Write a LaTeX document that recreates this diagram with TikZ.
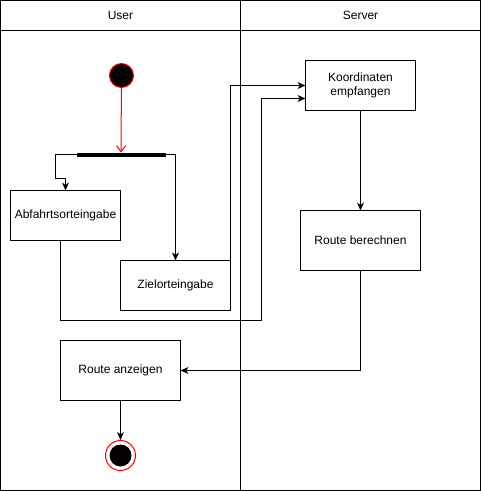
\documentclass[tikz,border=0pt]{standalone}
\usepackage{fontspec}
\setmainfont{Liberation Sans}
\usetikzlibrary{arrows.meta,calc}

\begin{document}
\begin{tikzpicture}[x=1pt,y=-1pt,line width=1pt,
    every node/.style={font=\fontsize{12}{14}\selectfont},
    activity/.style={draw,rectangle,inner sep=2pt,outer sep=0pt,align=center,minimum width=110pt,minimum height=50pt},
    arr/.style={-{Stealth[length=8pt,width=7pt,inset=2.5pt]}}]
  \useasboundingbox (-0.5,-0.5) rectangle (480.5,490.5);

  % swimlanes
  \draw (0,0) rectangle (480,490);
  \draw (0,30) -- (480,30);
  \draw (240,0) -- (240,490);
  \node (user) at (120,15) {User};
  \node (server) at (360,15) {Server};

  \node[circle,draw=red,fill=black,minimum size=24pt,inner sep=0pt] (start) at (121,75) {};
  \node[rectangle,fill=black,minimum width=89pt,minimum height=4pt,inner sep=0pt,outer sep=0pt] (fork) at (120.5,154) {};
  \node[activity] (abfahrt) at (65,215) {Abfahrtsorteingabe};
  \node[activity] (ziel) at (175,285) {Zielorteingabe};
  \node[activity] (koord) at (360,85) {Koordinaten\\empfangen};
  \node[activity,minimum width=120pt,minimum height=60pt] (berechnen) at (360,240) {Route berechnen};
  \node[activity,minimum width=120pt,minimum height=60pt] (anzeigen) at (120,370) {Route anzeigen};
  \node[circle,draw=red,fill=white,minimum size=30pt,inner sep=0pt] (ende) at (120,455) {};
  \fill (ende.center) circle (11);

  \coordinate (forkbend) at (55,178);
  \coordinate (abfbend) at (261,320);

  \draw[red,-{Straight Barb[length=6pt,width=9pt]}] (start) -- (fork);
  \draw[arr] (fork.west) -| (forkbend) -| (abfahrt.north);
  \draw[arr] (fork.east) -| (ziel.north);
  \draw[arr] (ziel.east) |- (koord.west);
  \draw[arr] ($(abfahrt.south)+(-5,0)$) |- (abfbend) |- ($(koord.west)+(0,13)$);
  \draw[arr] (koord) -- (berechnen);
  \draw[arr] (berechnen.south) |- (anzeigen.east);
  \draw[arr] (anzeigen) -- (ende);
\end{tikzpicture}
\end{document}
